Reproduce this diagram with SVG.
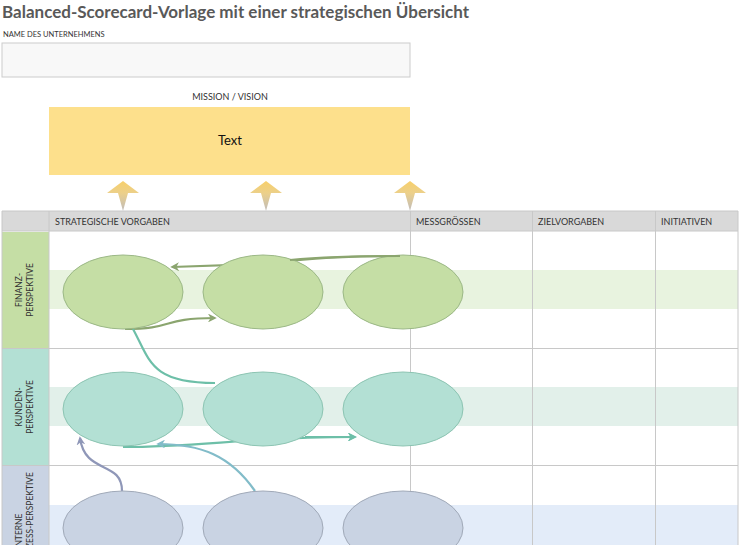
<svg xmlns="http://www.w3.org/2000/svg" width="741" height="545" viewBox="0 0 741 545">
<style>
text{font-family:"Lato","Liberation Sans",sans-serif;fill:#333}
.h{font-size:9px}
.g{stroke:#c8c8c8;stroke-width:1}
.c{fill:none;stroke-width:2.2}
.lbl{font-size:8.5px;text-anchor:middle}
</style>
<defs>
<linearGradient id="ag" x1="0" y1="0" x2="0" y2="1"><stop offset="0" stop-color="#f7cf6a"/><stop offset="0.4" stop-color="#ecd08a"/><stop offset="1" stop-color="#c0bcbc"/></linearGradient>
<clipPath id="ic"><rect x="2" y="466" width="47" height="79"/></clipPath>
<marker id="m" viewBox="0 0 10 10" refX="8" refY="5" markerWidth="4" markerHeight="4" orient="auto"><path d="M0,0 L10,5 L0,10 L3,5z" fill="context-stroke"/></marker>
<g id="arr"><path d="M0,0 L16,12 L5,12 L0,30 L-5,12 L-16,12z" fill="url(#ag)"/></g>
</defs>
<rect width="741" height="545" fill="#fff"/>
<text x="2" y="18" style="font-size:17px;font-weight:bold;fill:#595959">Balanced-Scorecard-Vorlage mit einer strategischen Übersicht</text>
<text x="3" y="37" style="font-size:7.5px">NAME DES UNTERNEHMENS</text>
<rect x="2" y="43" width="408" height="34" fill="#f8f8f8" stroke="#ccc"/>
<text x="230" y="100" style="font-size:9px;text-anchor:middle">MISSION / VISION</text>
<rect x="49" y="107" width="361" height="68" fill="#fde08c"/>
<text x="230" y="145" style="font-size:13px;text-anchor:middle;fill:#111">Text</text>
<use href="#arr" x="123" y="181"/><use href="#arr" x="266" y="181"/><use href="#arr" x="410" y="181"/>
<rect x="2" y="211" width="736" height="20" fill="#d9d9d9"/>
<text class="h" x="55" y="225">STRATEGISCHE VORGABEN</text>
<text class="h" x="416" y="225">MESSGRÖSSEN</text>
<text class="h" x="538" y="225">ZIELVORGABEN</text>
<text class="h" x="661" y="225">INITIATIVEN</text>
<rect x="49" y="270" width="689" height="39" fill="#e8f3df"/>
<rect x="49" y="387" width="689" height="39" fill="#e2f0ea"/>
<rect x="49" y="505" width="689" height="40" fill="#e3ecf9"/>
<g id="finanz-label"><rect x="2" y="232" width="47" height="116" fill="#c5dea5"/>
<text class="lbl" transform="translate(22,290) rotate(-90)">FINANZ-</text><text class="lbl" transform="translate(33,290) rotate(-90)">PERSPEKTIVE</text></g>
<g id="kunden-label"><rect x="2" y="349" width="47" height="116" fill="#b3e0d4"/>
<text class="lbl" transform="translate(22,407) rotate(-90)">KUNDEN-</text><text class="lbl" transform="translate(33,407) rotate(-90)">PERSPEKTIVE</text></g>
<g id="interne-label"><rect x="2" y="466" width="47" height="79" fill="#c9d3e3"/>
<g clip-path="url(#ic)"><text class="lbl" transform="translate(22,549) rotate(-90)" style="text-anchor:start">INTERNE</text><text class="lbl" transform="translate(33,472) rotate(-90)" style="text-anchor:end">GESCHÄFTSPROZESS-PERSPEKTIVE</text></g></g>
<g class="g">
<line x1="2" y1="211" x2="738" y2="211"/><line x1="2" y1="231" x2="738" y2="231"/>
<line x1="2" y1="348.5" x2="738" y2="348.5"/><line x1="2" y1="465.5" x2="738" y2="465.5"/>
<line x1="2" y1="211" x2="2" y2="545"/><line x1="49" y1="211" x2="49" y2="545"/>
<line x1="410.5" y1="211" x2="410.5" y2="545"/><line x1="532.5" y1="211" x2="532.5" y2="545"/>
<line x1="655.5" y1="211" x2="655.5" y2="545"/><line x1="738" y1="211" x2="738" y2="545"/>
</g>
<g id="connectors">
<path class="c" stroke="#8ba56f" d="M400,256 C330,256 300,260 260,264 L172,267" marker-end="url(#m)"/>
<path class="c" stroke="#8ba56f" d="M125,329 C175,329 160,318 215,318" marker-end="url(#m)"/>
<path class="c" stroke="#6dbfa8" d="M133,329 C150,360 150,383 215,383"/>
<path class="c" stroke="#6dbfa8" d="M123,447 C200,447 250,437 355,437" marker-end="url(#m)"/>
<path class="c" stroke="#8f97b8" d="M122,491 C122,460 85,475 80,438" marker-end="url(#m)"/>
<path class="c" stroke="#82bcc9" d="M255,491 C230,455 200,444 158,444" marker-end="url(#m)"/>
</g>
<g id="f1"><ellipse cx="123" cy="292" rx="60" ry="37" fill="#c5dea5" stroke="#9bb886"/></g>
<g id="f2"><ellipse cx="263" cy="292" rx="60" ry="37" fill="#c5dea5" stroke="#9bb886"/></g>
<g id="f3"><ellipse cx="403" cy="292" rx="60" ry="37" fill="#c5dea5" stroke="#9bb886"/></g>
<g id="k1"><ellipse cx="123" cy="409" rx="60" ry="37" fill="#b3e0d4" stroke="#8cc4b2"/></g>
<g id="k2"><ellipse cx="263" cy="409" rx="60" ry="37" fill="#b3e0d4" stroke="#8cc4b2"/></g>
<g id="k3"><ellipse cx="403" cy="409" rx="60" ry="37" fill="#b3e0d4" stroke="#8cc4b2"/></g>
<g id="i1"><ellipse cx="123" cy="528" rx="60" ry="37" fill="#c9d3e3" stroke="#a0a9b8"/></g>
<g id="i2"><ellipse cx="263" cy="528" rx="60" ry="37" fill="#c9d3e3" stroke="#a0a9b8"/></g>
<g id="i3"><ellipse cx="403" cy="528" rx="60" ry="37" fill="#c9d3e3" stroke="#a0a9b8"/></g>
<path class="c" stroke="#8ba56f" d="M290,260 C330,256 370,256 400,256"/>
<path class="c" stroke="#6dbfa8" d="M305,437 C320,437 340,437 355,437" marker-end="url(#m)"/>
</svg>
